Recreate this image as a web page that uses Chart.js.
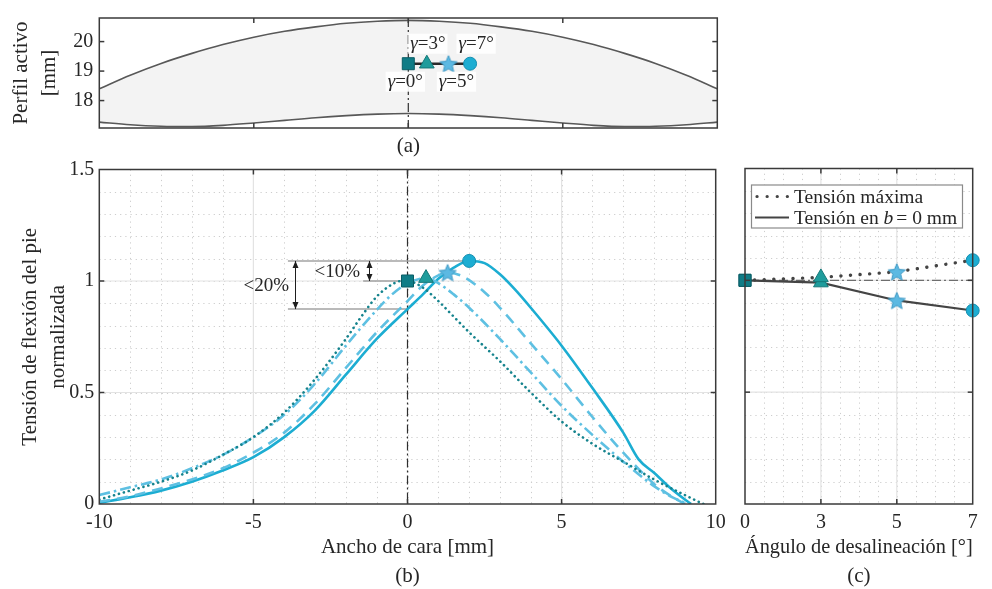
<!DOCTYPE html>
<html lang="es">
<head>
<meta charset="utf-8">
<title>Tensión de flexión del pie normalizada</title>
<script src="https://cdn.jsdelivr.net/npm/chart.js@4.4.1/dist/chart.umd.min.js"></script>
<style>
  html, body { margin:0; padding:0; background:#fff; }
  #wrap { position:relative; width:992px; height:589px; overflow:hidden; background:#fff; }
  #wrap canvas { position:absolute; }
</style>
</head>
<body>
<div id="wrap">
  <canvas id="ca" width="740" height="161" style="left:0;top:0"></canvas>
  <canvas id="cb" width="740" height="441" style="left:0;top:150px"></canvas>
  <canvas id="cc" width="262" height="441" style="left:730px;top:150px"></canvas>
</div>
<script>
// ===================== DATA =====================
// (a) active profile [mm] vs face width [mm]
const profileX      = [-10,-9,-8,-7,-6,-5,-4,-3,-2,-1,0,1,2,3,4,5,6,7,8,9,10];
const profileTop    = [18.40,18.86,19.26,19.60,19.90,20.15,20.35,20.50,20.62,20.69,20.72,20.69,20.62,20.50,20.35,20.15,19.90,19.60,19.26,18.86,18.40];
const profileBottom = [17.27,17.18,17.13,17.12,17.16,17.24,17.33,17.42,17.49,17.54,17.56,17.54,17.49,17.42,17.33,17.24,17.16,17.12,17.13,17.18,17.27];
const contactLineY  = 19.25;
const gammaLabels   = ['=0°','=3°','=5°','=7°'];

// position / value of the maximum stress for each misalignment angle
const peakX = [0, 0.6, 1.3, 2.0];
const peakY = [1.0, 1.013, 1.038, 1.09];

// (b) normalized root bending stress vs face width
const xG0 = [-10,-9,-8,-7,-6,-5,-4,-3,-2,-1.5,-1,-0.5,-0.2,0,0.5,1,1.5,2,3,4,5,6,7,8,9,9.6];
const yG0 = [0.02,0.06,0.10,0.15,0.22,0.30,0.41,0.56,0.74,0.84,0.93,0.985,1.0,1.0,0.97,0.91,0.84,0.77,0.64,0.50,0.37,0.27,0.19,0.11,0.04,0];
const xG3 = [-10,-9,-8,-7,-6,-5,-4,-3,-2,-1,-0.5,0,0.6,1,1.5,2,3,4,5,6,7,8,8.6,9.1];
const yG3 = [0.04,0.075,0.11,0.16,0.22,0.30,0.40,0.54,0.71,0.87,0.94,0.99,1.013,0.99,0.94,0.88,0.74,0.59,0.44,0.31,0.19,0.08,0.03,0];
const xG5 = [-10,-9,-8,-7,-6,-5,-4,-3,-2,-1,0,0.5,1,1.3,1.8,2.5,3,4,5,6,7,8,8.5,9];
const yG5 = [0.01,0.035,0.07,0.11,0.16,0.23,0.32,0.45,0.61,0.77,0.91,0.98,1.025,1.038,1.02,0.95,0.88,0.72,0.56,0.39,0.23,0.09,0.04,0];
const xG7 = [-10,-9,-8,-7,-6,-5,-4,-3,-2,-1,0,0.5,1,1.5,2,2.5,3,3.5,4,5,6,7,7.5,8,8.5,9,9.2];
const yG7 = [0.005,0.03,0.06,0.10,0.15,0.21,0.30,0.42,0.58,0.74,0.874,0.94,1.01,1.06,1.09,1.08,1.03,0.96,0.88,0.71,0.52,0.32,0.20,0.14,0.075,0.02,0];

// (b) annotation: reference levels and difference arrows
const annotLevels = [1.09, 1.0, 0.874];
const annotStart  = [-3.88, -1.44, -3.88];
const annotEnd    = [2.0, 0, 0];
const arrowX      = [-3.65, -1.25];
const arrowTop    = [1.09, 1.09];
const arrowBottom = [0.874, 1.0];
const arrowText   = ['<20%', '<10%'];

// (c) stress vs misalignment angle
const angleLabels = ['0','3','5','7'];
const stressMax   = peakY;
const stressAtB0  = [1.0, 0.99, 0.91, 0.865];
const refLevelC   = 1.0;

// tick labels
const yTicksA = [18, 19, 20];
const xTicksB = [-10, -5, 0, 5, 10];
const yTicksB = [0, 0.5, 1, 1.5];
const legendC = ['Tensión máxima', 'Tensión en '];

// ===================== STYLE =====================
const FONT = "'Liberation Serif','Times New Roman',serif";
Chart.defaults.font.family = FONT;
Chart.defaults.font.size = 20;
Chart.defaults.color = '#262626';
const TITLE_FONT = { size: 21, lineHeight: 1.38 };

const BOX = '#3a3a3a';
const GRID_MINOR = '#cdcdcd';
const GRID_MAJOR = '#e3e3e3';

function makeStar(fill, stroke, R) {
  const c = document.createElement('canvas');
  const s = Math.ceil(R * 2 + 4);
  c.width = s; c.height = s;
  const g = c.getContext('2d');
  g.translate(s / 2, s / 2 + R * 0.1);
  g.beginPath();
  for (let i = 0; i < 10; i++) {
    const r = i % 2 ? R * 0.45 : R;
    const ang = -Math.PI / 2 + i * Math.PI / 5;
    g.lineTo(r * Math.cos(ang), r * Math.sin(ang));
  }
  g.closePath();
  g.fillStyle = fill; g.fill();
  g.lineWidth = 1; g.strokeStyle = stroke; g.stroke();
  return c;
}
const markerFill   = ['#0f7c86', '#1f9c9c', '#5cb9e2', '#1cadd2'];
const markerStroke = ['#0a5d65', '#147878', '#3d98c4', '#168fb0'];
const starImg = makeStar(markerFill[2], markerStroke[2], 9);
const markerStyle  = ['rect', 'triangle', starImg, 'circle'];
const markerRadius = [8.5, 8.5, 8, 6.5];

const panelCfg = {
  ca: { ticksX: [-5, 0, 5], ticksY: [18, 19, 20], refX: 0, gamma: true },
  cb: { minorX: 1, minorY: 0.1, majorX: [-5, 5], majorY: [0.5, 1], ticksX: [-5, 0, 5], ticksY: [0.5, 1], refX: 0, annot: true },
  cc: { minorX: 0.25, minorY: 0.1, majorX: [1, 2], majorY: [0.5, 1], ticksX: [1, 2], ticksY: [0.5, 1], refY: refLevelC, legend: true }
};

function line(ctx, x1, y1, x2, y2) { ctx.beginPath(); ctx.moveTo(x1, y1); ctx.lineTo(x2, y2); ctx.stroke(); }

const decor = {
  id: 'decor',
  beforeDatasetsDraw(chart) {
    const cfg = panelCfg[chart.canvas.id]; if (!cfg) return;
    const { ctx, chartArea: a } = chart;
    const xs = chart.scales.x, ys = chart.scales.y;
    ctx.save();
    ctx.beginPath(); ctx.rect(a.left, a.top, a.right - a.left, a.bottom - a.top); ctx.clip();
    // minor dotted grid
    ctx.lineWidth = 1; ctx.strokeStyle = GRID_MINOR; ctx.setLineDash([1.2, 4]);
    if (cfg.minorX) {
      const n = Math.round((xs.max - xs.min) / cfg.minorX);
      for (let k = 1; k < n; k++) { const p = Math.round(xs.getPixelForValue(xs.min + k * cfg.minorX)) + 0.5; line(ctx, p, a.top, p, a.bottom); }
    }
    if (cfg.minorY) {
      const n = Math.round((ys.max - ys.min) / cfg.minorY);
      for (let k = 1; k < n; k++) { const p = Math.round(ys.getPixelForValue(ys.min + k * cfg.minorY)) + 0.5; line(ctx, a.left, p, a.right, p); }
    }
    // major grid
    ctx.setLineDash([]); ctx.strokeStyle = GRID_MAJOR; ctx.lineWidth = 1.2;
    (cfg.majorX || []).forEach(v => { const p = xs.getPixelForValue(v); line(ctx, p, a.top, p, a.bottom); });
    (cfg.majorY || []).forEach(v => { const p = ys.getPixelForValue(v); line(ctx, a.left, p, a.right, p); });
    // reference dash-dot lines
    if (cfg.refX !== undefined) {
      ctx.strokeStyle = '#2e2e2e'; ctx.lineWidth = 1.2; ctx.setLineDash([9, 3, 2, 3]);
      const p = xs.getPixelForValue(cfg.refX); line(ctx, p, a.top, p, a.bottom);
    }
    if (cfg.refY !== undefined) {
      ctx.strokeStyle = '#6e6e6e'; ctx.lineWidth = 1.3; ctx.setLineDash([9, 3, 2, 3]);
      const p = ys.getPixelForValue(cfg.refY); line(ctx, a.left, p, a.right, p);
    }
    // annotation lines (b)
    if (cfg.annot) {
      ctx.setLineDash([]); ctx.strokeStyle = '#a3a3a3'; ctx.lineWidth = 1.5;
      annotLevels.forEach((lv, i) => {
        const p = ys.getPixelForValue(lv);
        line(ctx, xs.getPixelForValue(annotStart[i]), p, xs.getPixelForValue(annotEnd[i]), p);
      });
      ctx.strokeStyle = '#1e1e1e'; ctx.fillStyle = '#1e1e1e'; ctx.lineWidth = 1;
      arrowX.forEach((xv, i) => {
        const px = Math.round(xs.getPixelForValue(xv)) + 0.5;
        const y1 = ys.getPixelForValue(arrowTop[i]), y2 = ys.getPixelForValue(arrowBottom[i]);
        line(ctx, px, y1, px, y2);
        ctx.beginPath(); ctx.moveTo(px, y1); ctx.lineTo(px - 3, y1 + 7); ctx.lineTo(px + 3, y1 + 7); ctx.closePath(); ctx.fill();
        ctx.beginPath(); ctx.moveTo(px, y2); ctx.lineTo(px - 3, y2 - 7); ctx.lineTo(px + 3, y2 - 7); ctx.closePath(); ctx.fill();
      });
    }
    ctx.restore();
    if (cfg.annot) {
      ctx.save();
      ctx.font = '19px ' + FONT; ctx.fillStyle = '#262626'; ctx.textAlign = 'right'; ctx.textBaseline = 'middle';
      arrowX.forEach((xv, i) => {
        const px = xs.getPixelForValue(xv);
        const ym = (ys.getPixelForValue(arrowTop[i]) + ys.getPixelForValue(arrowBottom[i])) / 2;
        ctx.fillText(arrowText[i], px - (i === 0 ? 6 : 9), ym + 1);
      });
      ctx.restore();
    }
  },
  afterDatasetsDraw(chart) {
    const cfg = panelCfg[chart.canvas.id]; if (!cfg) return;
    const { ctx, chartArea: a } = chart;
    const xs = chart.scales.x, ys = chart.scales.y;
    ctx.save();
    // inward ticks
    ctx.strokeStyle = BOX; ctx.lineWidth = 1.5; ctx.setLineDash([]);
    (cfg.ticksX || []).forEach(v => { const p = xs.getPixelForValue(v); line(ctx, p, a.bottom, p, a.bottom - 5); line(ctx, p, a.top, p, a.top + 5); });
    (cfg.ticksY || []).forEach(v => { const p = ys.getPixelForValue(v); line(ctx, a.left, p, a.left + 5, p); line(ctx, a.right, p, a.right - 5, p); });
    // box
    ctx.strokeRect(a.left, a.top, a.right - a.left, a.bottom - a.top);
    // gamma labels (a)
    if (cfg.gamma) {
      const py = ys.getPixelForValue(contactLineY);
      const dx = [-3, 1, 8, 6];
      ctx.textBaseline = 'middle';
      peakX.forEach((xv, i) => {
        const px = xs.getPixelForValue(xv) + dx[i];
        const ty = (i % 2 === 1) ? py - 20 : py + 18;
        ctx.font = 'italic 19px ' + FONT; const w1 = ctx.measureText('γ').width;
        ctx.font = '19px ' + FONT; const w2 = ctx.measureText(gammaLabels[i]).width;
        const w = w1 + w2, x0 = px - w / 2;
        ctx.fillStyle = 'rgba(255,255,255,0.92)';
        ctx.fillRect(x0 - 2, ty - 10, w + 4, 20);
        ctx.fillStyle = '#262626';
        ctx.textAlign = 'left';
        ctx.font = 'italic 19px ' + FONT; ctx.fillText('γ', x0, ty);
        ctx.font = '19px ' + FONT; ctx.fillText(gammaLabels[i], x0 + w1, ty);
      });
    }
    // legend (c)
    if (cfg.legend) {
      const bx = a.left + 6, by = a.top + 16, bw = 211, bh = 43;
      ctx.fillStyle = '#fff'; ctx.fillRect(bx, by, bw, bh);
      ctx.strokeStyle = '#8a8a8a'; ctx.lineWidth = 1.2; ctx.strokeRect(bx + 0.5, by + 0.5, bw, bh);
      const r1 = by + 12, r2 = by + 33;
      ctx.strokeStyle = '#444'; ctx.lineCap = 'round';
      ctx.lineWidth = 3.2; ctx.setLineDash([0.1, 10]); line(ctx, bx + 6, r1, bx + 38, r1);
      ctx.setLineDash([]); ctx.lineCap = 'butt'; ctx.lineWidth = 2.2; line(ctx, bx + 4, r2, bx + 38, r2);
      ctx.fillStyle = '#262626'; ctx.textBaseline = 'middle'; ctx.textAlign = 'left';
      ctx.font = '19.5px ' + FONT; ctx.fillText(legendC[0], bx + 43, r1 + 1);
      ctx.fillText(legendC[1], bx + 43, r2 + 1);
      let xx = bx + 43 + ctx.measureText(legendC[1]).width;
      ctx.font = 'italic 19.5px ' + FONT; ctx.fillText('b', xx, r2 + 1); xx += ctx.measureText('b').width + 3;
      ctx.font = '19.5px ' + FONT; ctx.fillText('= 0 mm', xx, r2 + 1);
    }
    ctx.restore();
  }
};

const common = {
  responsive: false, animation: false, events: [],
  plugins: { legend: { display: false }, tooltip: { enabled: false }, filler: { drawTime: 'beforeDraw' } }
};
const noGrid = { display: false, drawTicks: false };
const pts = (xa, ya) => xa.map((x, i) => ({ x, y: ya[i] }));

// ===================== (a) =====================
new Chart(document.getElementById('ca'), {
  type: 'line',
  data: { datasets: [
    { data: peakX.map(x => ({ x, y: contactLineY })), borderColor: '#2a2a2a', borderWidth: 2.6,
      pointStyle: markerStyle, pointRadius: markerRadius, pointBackgroundColor: markerFill,
      pointBorderColor: markerStroke, pointBorderWidth: 1, clip: false },
    { data: pts(profileX, profileTop), borderColor: '#585858', borderWidth: 1.6, pointRadius: 0,
      fill: '+1', backgroundColor: '#f3f3f3', cubicInterpolationMode: 'monotone' },
    { data: pts(profileX, profileBottom), borderColor: '#585858', borderWidth: 1.6, pointRadius: 0,
      fill: false, cubicInterpolationMode: 'monotone' }
  ]},
  options: Object.assign({}, common, {
    layout: { padding: { top: 9.3, right: 740 - 717.3, left: 0, bottom: 0 } },
    scales: {
      x: { type: 'linear', min: -10, max: 10, grid: noGrid, border: { display: false }, ticks: { display: false },
           title: { display: true, text: '(a)', font: { size: 21, lineHeight: 1.2 }, padding: { top: 0, bottom: 1.5 } },
           afterFit: s => { s.height = 161 - 128; } },
      y: { type: 'linear', min: 17.07, max: 20.8, grid: noGrid, border: { display: false },
           afterBuildTicks: s => { s.ticks = yTicksA.map(v => ({ value: v })); },
           ticks: { padding: 6, callback: v => String(v) },
           title: { display: true, text: ['Perfil activo', '[mm]'], font: TITLE_FONT, padding: { top: 6.5, bottom: 0 } },
           afterFit: s => { s.width = 99.3; } }
    }
  }),
  plugins: [decor]
});

// ===================== (b) =====================
const curve = (xa, ya, color, dash, cap) => ({
  data: pts(xa, ya), borderColor: color, borderWidth: 2.6, borderDash: dash, borderCapStyle: cap || 'butt',
  pointRadius: 0, fill: false, cubicInterpolationMode: 'monotone'
});
new Chart(document.getElementById('cb'), {
  type: 'line',
  data: { datasets: [
    { data: pts(peakX, peakY), showLine: false, pointStyle: markerStyle, pointRadius: markerRadius,
      pointBackgroundColor: markerFill, pointBorderColor: markerStroke, pointBorderWidth: 1, clip: false },
    curve(xG0, yG0, '#15838d', [0.1, 5], 'round'),
    curve(xG3, yG3, '#5ec0e2', [11, 4, 2.5, 4]),
    curve(xG5, yG5, '#5ec0e2', [11, 7]),
    curve(xG7, yG7, '#1cadd2', [])
  ]},
  options: Object.assign({}, common, {
    layout: { padding: { top: 19.5, right: 740 - 715.7, left: 0, bottom: 0 } },
    scales: {
      x: { type: 'linear', min: -10, max: 10, grid: noGrid, border: { display: false },
           afterBuildTicks: s => { s.ticks = xTicksB.map(v => ({ value: v })); },
           ticks: { padding: 7, maxRotation: 0, callback: v => String(v) },
           title: { display: true, text: ['Ancho de cara [mm]', '(b)'], font: TITLE_FONT, padding: { top: 0, bottom: 0 } },
           afterFit: s => { s.height = 441 - 354; } },
      y: { type: 'linear', min: 0, max: 1.5, grid: noGrid, border: { display: false },
           afterBuildTicks: s => { s.ticks = yTicksB.map(v => ({ value: v })); },
           ticks: { padding: 5, callback: v => String(v) },
           title: { display: true, text: ['Tensión de flexión del pie', 'normalizada'], font: TITLE_FONT, padding: { top: 15.5, bottom: 0 } },
           afterFit: s => { s.width = 99.3; } }
    }
  }),
  plugins: [decor]
});

// ===================== (c) =====================
new Chart(document.getElementById('cc'), {
  type: 'line',
  data: { labels: angleLabels, datasets: [
    { data: stressMax, borderColor: '#444', borderWidth: 3.4, borderDash: [0.1, 9.5], borderCapStyle: 'round',
      pointStyle: markerStyle, pointRadius: markerRadius, pointBackgroundColor: markerFill,
      pointBorderColor: markerStroke, pointBorderWidth: 1, clip: false, fill: false },
    { data: stressAtB0, borderColor: '#444', borderWidth: 2.2,
      pointStyle: markerStyle, pointRadius: markerRadius, pointBackgroundColor: markerFill,
      pointBorderColor: markerStroke, pointBorderWidth: 1, clip: false, fill: false }
  ]},
  options: Object.assign({}, common, {
    layout: { padding: { top: 18.5, right: 262 - 242.7, left: 0, bottom: 0 } },
    scales: {
      x: { type: 'category', offset: false, grid: noGrid, border: { display: false },
           ticks: { padding: 7, maxRotation: 0 },
           title: { display: true, text: ['Ángulo de desalineación [°]', '(c)'], font: TITLE_FONT, padding: { top: 0, bottom: 0 } },
           afterFit: s => { s.height = 441 - 354; } },
      y: { type: 'linear', min: 0, max: 1.5, grid: noGrid, border: { display: false }, ticks: { display: false },
           afterFit: s => { s.width = 15; } }
    }
  }),
  plugins: [decor]
});
</script>
</body>
</html>
